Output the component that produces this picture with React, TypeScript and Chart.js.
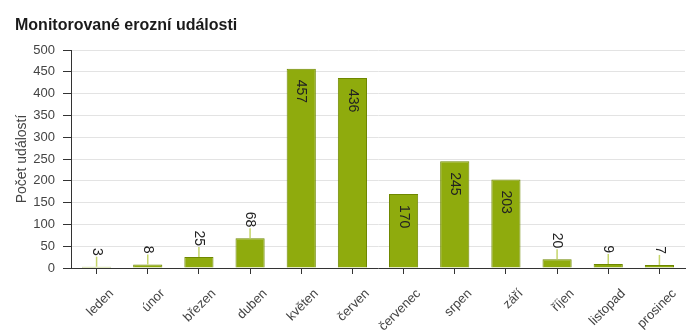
import React, { useEffect, useRef } from "react";
import { Chart, registerables } from "chart.js";

Chart.register(...registerables);

const TITLE = "Monitorované erozní události";
const Y_TITLE = "Počet událostí";
const months = ["leden", "únor", "březen", "duben", "květen", "červen", "červenec", "srpen", "září", "říjen", "listopad", "prosinec"];
const events = [3, 8, 25, 68, 457, 436, 170, 245, 203, 20, 9, 7];
const Y_MIN = 0;
const Y_MAX = 500;
const Y_STEP = 50;

const FONT = "'Liberation Sans', Arial, sans-serif";

const titlePlugin = {
  id: "customTitle",
  afterDraw(chart: any) {
    const ctx = chart.ctx;
    ctx.save();
    ctx.font = `bold 16px ${FONT}`;
    ctx.fillStyle = "#1a1a1a";
    ctx.textAlign = "left";
    ctx.textBaseline = "alphabetic";
    ctx.fillText(TITLE, 15, 30);
    ctx.restore();
  },
};

const valueLabels = {
  id: "valueLabels",
  afterDatasetsDraw(chart: any) {
    const ctx = chart.ctx;
    const meta = chart.getDatasetMeta(0);
    const vals = chart.data.datasets[0].data as number[];
    ctx.save();
    ctx.font = `14px ${FONT}`;
    ctx.fillStyle = "#222";
    meta.data.forEach((el: any, i: number) => {
      const v = vals[i];
      const x = el.x;
      const top = el.y;
      if (v >= 100) {
        ctx.save();
        ctx.translate(x, top + 11);
        ctx.rotate(Math.PI / 2);
        ctx.textAlign = "left";
        ctx.textBaseline = "middle";
        ctx.fillText(String(v), 0, 0);
        ctx.restore();
      } else {
        const lineTop = top - 10;
        ctx.save();
        ctx.strokeStyle = "#c5d56a";
        ctx.lineWidth = 1.5;
        ctx.beginPath();
        ctx.moveTo(x, top);
        ctx.lineTo(x, lineTop);
        ctx.stroke();
        ctx.translate(x, lineTop - 1);
        ctx.rotate(Math.PI / 2);
        ctx.textAlign = "right";
        ctx.textBaseline = "middle";
        ctx.fillText(String(v), 0, 0);
        ctx.restore();
      }
    });
    ctx.restore();
  },
};

const bgPlugin = {
  id: "bg",
  beforeDraw(chart: any) {
    const ctx = chart.ctx;
    ctx.save();
    ctx.fillStyle = "#ffffff";
    ctx.fillRect(0, 0, chart.width, chart.height);
    ctx.restore();
  },
};

export default function App() {
  const ref = useRef<HTMLCanvasElement | null>(null);
  useEffect(() => {
    if (!ref.current) return;
    const chart = new Chart(ref.current, {
      type: "bar",
      data: {
        labels: months,
        datasets: [
          {
            data: events,
            backgroundColor: "#8fab0d",
            borderColor: "#6f8800",
            borderWidth: 1,
            barPercentage: 0.57,
            categoryPercentage: 1,
          },
        ],
      },
      options: {
        responsive: false,
        animation: false,
        devicePixelRatio: 1,
        layout: { padding: { top: 50, right: 15, left: 0, bottom: 0 } },
        plugins: {
          legend: { display: false },
          title: { display: false },
          tooltip: { enabled: false },
        },
        scales: {
          x: {
            offset: true,
            grid: { display: true, drawOnChartArea: false, offset: false, tickLength: 6, tickColor: "#333" },
            border: { color: "#333", width: 1 },
            ticks: {
              minRotation: 45,
              maxRotation: 45,
              padding: 12,
              labelOffset: 15,
              color: "#444",
              font: { family: FONT, size: 13 },
            },
            afterFit(scale: any) {
              scale.height = 66;
            },
          },
          y: {
            min: Y_MIN,
            max: Y_MAX,
            ticks: {
              stepSize: Y_STEP,
              padding: 8,
              color: "#444",
              font: { family: FONT, size: 13 },
            },
            grid: { color: "#e3e3e3", tickLength: 8, tickColor: "#333" },
            border: { color: "#333", width: 1 },
            title: {
              display: true,
              text: Y_TITLE,
              color: "#444",
              font: { family: FONT, size: 14 },
              padding: { top: 14, bottom: 0 },
            },
            afterFit(scale: any) {
              scale.width = 71;
            },
          },
        },
      },
      plugins: [bgPlugin, titlePlugin, valueLabels],
    });
    return () => chart.destroy();
  }, []);
  return (
    <div style={{ position: "fixed", left: 0, top: 0, width: 700, height: 334, background: "#fff" }}>
      <canvas ref={ref} width={700} height={334} />
    </div>
  );
}
